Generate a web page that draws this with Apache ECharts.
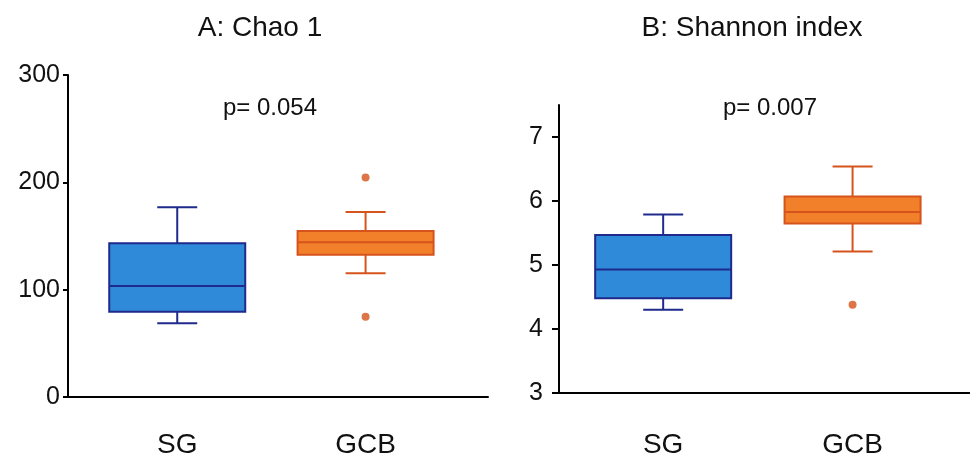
<!DOCTYPE html>
<html>
<head>
<meta charset="utf-8">
<script src="https://cdn.jsdelivr.net/npm/echarts@6/dist/echarts.min.js"></script>
<style>
  html, body { margin: 0; padding: 0; background: #fff; }
  #main { width: 970px; height: 459px; }
</style>
</head>
<body>
<div id="main"></div>
<script>
// 分组
var groups = ['SG', 'GCB'];
// A: Chao 1  [min, Q1, median, Q3, max]
var chaoStats = [
    [68.7, 79.5, 103.4, 143.2, 176.8],
    [115.3, 132.6, 144.2, 154.7, 172.4]
];
// 离群点 [组序号, 值]
var chaoOutliers = [[1, 204.4], [1, 74.8]];
// B: Shannon index
var shannonStats = [
    [4.30, 4.48, 4.93, 5.47, 5.79],
    [5.21, 5.65, 5.83, 6.07, 6.54]
];
var shannonOutliers = [[1, 4.38]];
// 刻度
var chaoTicks = [0, 100, 200, 300];
var shannonTicks = [3, 4, 5, 6, 7];
var pTexts = ['p= 0.054', 'p= 0.007'];
var titles = ['A: Chao 1', 'B: Shannon index'];

var boxFill = ['#2f8ad9', '#f2802a'];
var boxLine = ['#1f2a8c', '#d6531c'];
var font = '"Liberation Sans", Arial, sans-serif';

(function () {
    var myChart = echarts.init(document.getElementById('main'));

    // 组位置从1开始
    function toBoxData(stats) {
        return stats.map(function (s, i) {
            return [i + 1].concat(s);
        });
    }
    function toOutlierData(list) {
        return list.map(function (o) {
            return { value: [o[0] + 1, o[1]], itemStyle: { color: boxLine[o[0]] } };
        });
    }

    // 自定义箱线图 (须线端较短)
    function renderBox(params, api) {
        var x = api.value(0);
        var pMin = api.coord([x, api.value(1)]);
        var pQ1 = api.coord([x, api.value(2)]);
        var pMed = api.coord([x, api.value(3)]);
        var pQ3 = api.coord([x, api.value(4)]);
        var pMax = api.coord([x, api.value(5)]);
        var cx = pMed[0];
        var half = 68, cap = 20;
        var stroke = boxLine[params.dataIndex];
        var ls = { stroke: stroke, lineWidth: 2 };
        return {
            type: 'group',
            children: [
                { type: 'line', shape: { x1: cx, y1: pMin[1], x2: cx, y2: pQ1[1] }, style: ls },
                { type: 'line', shape: { x1: cx, y1: pQ3[1], x2: cx, y2: pMax[1] }, style: ls },
                { type: 'line', shape: { x1: cx - cap, y1: pMin[1], x2: cx + cap, y2: pMin[1] }, style: ls },
                { type: 'line', shape: { x1: cx - cap, y1: pMax[1], x2: cx + cap, y2: pMax[1] }, style: ls },
                {
                    type: 'rect',
                    shape: { x: cx - half, y: pQ3[1], width: half * 2, height: pQ1[1] - pQ3[1] },
                    style: { fill: boxFill[params.dataIndex], stroke: stroke, lineWidth: 2 }
                },
                { type: 'line', shape: { x1: cx - half, y1: pMed[1], x2: cx + half, y2: pMed[1] }, style: ls }
            ]
        };
    }

    function xAxisOpt(idx, min, max, margin) {
        return {
            type: 'value',
            gridIndex: idx,
            min: min,
            max: max,
            splitLine: { show: false },
            axisLine: { lineStyle: { color: '#000', width: 2 } },
            axisTick: { show: false },
            axisLabel: {
                customValues: [1, 2],
                margin: margin,
                fontSize: 28,
                color: '#111',
                fontFamily: font,
                formatter: function (v) { return groups[Math.round(v) - 1]; }
            }
        };
    }
    function yAxisOpt(idx, min, max, ticks, margin, tickLen) {
        return {
            type: 'value',
            gridIndex: idx,
            min: min,
            max: max,
            splitLine: { show: false },
            axisLine: { show: true, lineStyle: { color: '#000', width: 2 } },
            axisTick: { show: true, customValues: ticks, length: tickLen, lineStyle: { color: '#000', width: 2 } },
            axisLabel: { customValues: ticks, margin: margin, fontSize: 25, color: '#111', fontFamily: font }
        };
    }

    var titleStyle = { fontSize: 28, fontWeight: 'normal', color: '#111', fontFamily: font };
    var pStyle = { fontSize: 24, fontWeight: 'normal', color: '#111', fontFamily: font };

    var option = {
        backgroundColor: '#fff',
        animation: false,
        title: [
            { text: titles[0], left: 260, top: 14, padding: 0, textAlign: 'center', textStyle: titleStyle },
            { text: titles[1], left: 752, top: 14, padding: 0, textAlign: 'center', textStyle: titleStyle },
            { text: pTexts[0], left: 270, top: 96, padding: 0, textAlign: 'center', textStyle: pStyle },
            { text: pTexts[1], left: 770, top: 96, padding: 0, textAlign: 'center', textStyle: pStyle }
        ],
        grid: [
            { left: 68, right: 482, top: 75, bottom: 62 },
            { left: 559, right: 0, top: 105, bottom: 66 }
        ],
        xAxis: [
            xAxisOpt(0, 0.42, 2.65, 34),
            xAxisOpt(1, 0.45, 2.62, 38)
        ],
        yAxis: [
            yAxisOpt(0, 0, 300, chaoTicks, 8, 5),
            yAxisOpt(1, 3, 7.5, shannonTicks, 16, 7)
        ],
        series: [
            {
                type: 'custom',
                xAxisIndex: 0, yAxisIndex: 0,
                renderItem: renderBox,
                encode: { x: 0, y: [1, 2, 3, 4, 5] },
                data: toBoxData(chaoStats)
            },
            {
                type: 'scatter',
                xAxisIndex: 0, yAxisIndex: 0,
                symbolSize: 8,
                data: toOutlierData(chaoOutliers)
            },
            {
                type: 'custom',
                xAxisIndex: 1, yAxisIndex: 1,
                renderItem: renderBox,
                encode: { x: 0, y: [1, 2, 3, 4, 5] },
                data: toBoxData(shannonStats)
            },
            {
                type: 'scatter',
                xAxisIndex: 1, yAxisIndex: 1,
                symbolSize: 8,
                data: toOutlierData(shannonOutliers)
            }
        ]
    };
    myChart.setOption(option);
})();
</script>
</body>
</html>
